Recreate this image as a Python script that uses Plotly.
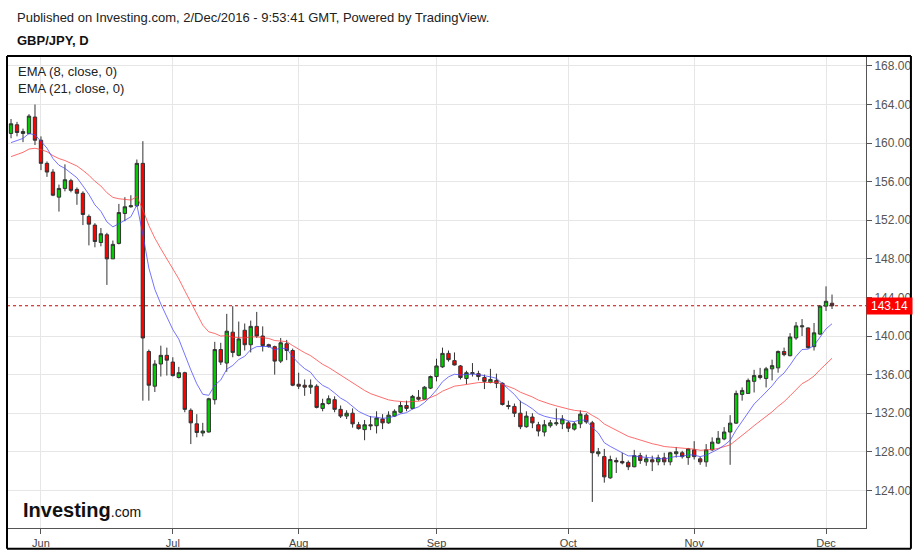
import pandas as pd
import plotly.graph_objects as go

# GBP/JPY daily, 25 May 2016 - 2 Dec 2016 (weekdays only)
dates = pd.bdate_range("2016-05-25", "2016-12-02").strftime("%Y-%m-%d").tolist()

opens = [161.0, 161.9, 161.0, 161.0, 162.7, 160.3, 157.9, 157.0, 154.4, 155.3,
         156.1, 155.2, 154.8, 152.4, 151.5, 149.7, 150.5, 148.0, 149.6, 152.7,
         153.4, 153.5, 157.9, 138.4, 134.8, 137.1, 138.0, 137.3, 135.7, 136.2,
         132.3, 130.9, 129.95, 130.05, 133.4, 138.6, 137.2, 140.4, 138.0, 140.6,
         139.1, 141.0, 140.0, 139.1, 138.9, 137.4, 139.2, 138.5, 135.0, 134.9,
         134.7, 134.8, 132.5, 133.0, 133.4, 132.4, 131.7, 132.0, 130.8, 130.3,
         130.8, 130.7, 131.4, 131.0, 131.7, 132.1, 132.8, 132.5, 133.65, 133.45,
         134.6, 135.8, 136.8, 138.2, 137.45, 136.9, 135.6, 136.1, 136.1, 135.7,
         135.2, 135.4, 135.1, 132.8, 132.7, 132.0, 130.6, 131.6, 130.8, 130.05,
         130.7, 130.9, 130.9, 131.0, 130.35, 130.9, 131.8, 131.0, 127.8, 127.5,
         125.3, 127.1, 127.0, 126.9, 126.45, 127.6, 126.96, 127.17, 126.96, 127.37,
         126.96, 127.8, 127.9, 127.4, 128.2, 127.27, 126.96, 128.2, 128.9, 129.33,
         130.05, 130.97, 133.95, 134.05, 135.3, 135.9, 135.6, 136.6, 136.7, 138.4,
         137.96, 139.8, 140.95, 140.84, 138.9, 140.2, 143.1, 143.4]
highs = [162.5, 162.2, 161.5, 163.0, 164.0, 160.7, 158.1, 157.3, 155.7, 157.8,
         156.3, 155.4, 155.0, 152.6, 151.7, 151.2, 150.7, 149.9, 153.7, 154.4,
         154.6, 158.3, 160.2, 138.6, 137.5, 139.0, 138.8, 137.8, 136.8, 136.3,
         132.5, 131.9, 131.0, 133.6, 139.4, 139.3, 142.3, 143.1, 141.5, 141.3,
         141.6, 142.5, 141.0, 139.2, 139.0, 139.8, 139.6, 138.7, 136.2, 135.5,
         135.5, 135.0, 133.5, 133.85, 133.75, 132.8, 132.3, 132.5, 131.1, 131.3,
         131.7, 132.2, 131.9, 132.2, 132.4, 133.2, 133.3, 133.9, 134.4, 134.8,
         135.9, 137.65, 138.8, 138.5, 138.3, 137.0, 136.4, 137.2, 136.4, 136.0,
         136.6, 136.1, 135.2, 133.3, 133.0, 133.3, 132.2, 132.0, 131.1, 131.3,
         131.3, 132.5, 131.8, 131.2, 131.1, 132.3, 132.0, 131.2, 128.4, 128.3,
         127.6, 127.4, 127.9, 127.1, 128.2, 127.9, 127.7, 127.6, 127.7, 127.9,
         128.0, 128.5, 128.1, 128.4, 129.1, 127.5, 128.8, 129.5, 130.15, 130.56,
         131.8, 134.35, 134.67, 135.6, 136.5, 136.7, 136.8, 137.55, 138.5, 138.8,
         140.3, 141.45, 141.76, 140.9, 141.35, 143.2, 145.15, 144.3]
lows = [160.5, 160.7, 160.1, 160.9, 159.8, 157.2, 156.5, 154.5, 152.9, 155.0,
        154.9, 153.6, 151.5, 149.4, 149.2, 149.3, 145.3, 148.0, 149.5, 151.9,
        153.3, 153.4, 133.3, 133.3, 134.2, 135.8, 135.9, 135.8, 135.6, 132.1,
        128.8, 129.5, 129.6, 130.0, 132.9, 137.0, 136.3, 137.8, 137.9, 138.5,
        138.3, 139.8, 138.4, 138.8, 136.0, 137.2, 137.5, 134.8, 134.5, 133.8,
        134.0, 132.5, 132.2, 132.9, 132.1, 131.5, 131.4, 130.5, 130.3, 129.2,
        130.25, 129.9, 130.35, 130.9, 131.6, 132.0, 132.2, 132.4, 133.3, 133.4,
        134.5, 135.3, 136.7, 137.35, 136.95, 135.5, 135.0, 135.8, 135.4, 134.5,
        135.1, 134.6, 132.8, 132.4, 131.6, 130.35, 130.5, 130.45, 129.6, 129.6,
        130.5, 130.7, 130.35, 130.05, 130.2, 130.45, 130.9, 122.8, 127.5, 124.8,
        125.2, 125.8, 126.7, 126.1, 126.4, 126.75, 126.55, 126.0, 126.6, 126.6,
        126.6, 127.4, 127.3, 126.65, 127.2, 126.65, 126.45, 128.1, 128.8, 129.2,
        126.65, 130.9, 133.3, 134.0, 134.15, 135.5, 134.67, 135.4, 136.2, 137.9,
        137.9, 139.6, 140.0, 138.7, 138.5, 140.1, 142.6, 142.8]
closes = [162.0, 161.1, 161.2, 162.8, 160.3, 157.9, 157.0, 154.6, 155.3, 156.2,
          155.1, 154.8, 152.6, 151.6, 149.8, 150.6, 148.0, 149.5, 152.8, 153.4,
          153.5, 157.9, 139.8, 134.9, 137.1, 138.0, 137.5, 135.9, 136.2, 132.4,
          131.0, 130.0, 130.15, 133.5, 138.6, 137.3, 140.5, 138.3, 139.7, 139.1,
          141.0, 140.0, 139.0, 138.9, 137.4, 139.3, 138.5, 134.9, 134.8, 134.7,
          134.9, 132.6, 133.0, 133.5, 132.4, 131.7, 132.0, 130.9, 130.4, 130.8,
          130.7, 131.5, 131.0, 131.8, 132.2, 132.8, 132.5, 133.75, 133.45, 134.7,
          135.8, 136.9, 138.2, 137.55, 137.0, 135.7, 136.2, 136.2, 135.8, 135.3,
          135.5, 135.1, 132.9, 132.7, 132.0, 130.6, 131.7, 131.0, 130.15, 130.8,
          131.0, 131.0, 131.4, 130.45, 130.9, 131.9, 131.1, 127.9, 128.0, 125.4,
          127.2, 126.95, 126.85, 126.45, 127.6, 127.1, 127.27, 126.96, 127.37, 126.96,
          127.9, 128.0, 127.5, 128.3, 127.5, 126.96, 128.2, 129.0, 129.4, 130.05,
          130.97, 134.05, 134.36, 135.4, 135.9, 135.7, 136.6, 136.93, 138.4, 138.07,
          139.9, 141.05, 141.05, 138.8, 140.33, 143.1, 143.6, 143.14]

# EMA values on the first bar (history before the window)
ema8_start = 160.05
ema21_start = 158.6

month_ticks = ["2016-06-01", "2016-07-01", "2016-08-01", "2016-09-01",
               "2016-10-03", "2016-11-01", "2016-12-01"]
month_labels = ["Jun", "Jul", "Aug", "Sep", "Oct", "Nov", "Dec"]
price_ticks = [124, 128, 132, 136, 140, 144, 148, 152, 156, 160, 164, 168]
last_price = closes[-1]


def ema(values, span, start):
    k = 2 / (span + 1)
    out = [start]
    for v in values[1:]:
        out.append(out[-1] + k * (v - out[-1]))
    return out


ema8 = ema(closes, 8, ema8_start)
ema21 = ema(closes, 21, ema21_start)

W, H = 918, 556
L, R, T, B = 7, 867, 56, 532


def px(x):
    return (x - L) / (R - L)


def py(y):
    return (B - y) / (B - T)


fig = go.Figure()
fig.add_trace(go.Candlestick(
    x=dates, open=opens, high=highs, low=lows, close=closes,
    increasing=dict(fillcolor="#00cc00", line=dict(color="#333333", width=1)),
    decreasing=dict(fillcolor="#ff0000", line=dict(color="#333333", width=1)),
    hoverinfo="skip"))
fig.add_trace(go.Scatter(x=dates, y=ema21, mode="lines",
                         line=dict(color="rgba(255,60,60,0.75)", width=1), hoverinfo="skip"))
fig.add_trace(go.Scatter(x=dates, y=ema8, mode="lines",
                         line=dict(color="rgba(70,70,255,0.75)", width=1), hoverinfo="skip"))

fig.add_shape(type="line", xref="paper", x0=0, x1=1, yref="y", y0=last_price, y1=last_price,
              line=dict(color="#cc0000", width=1, dash="dot"), layer="between")
# outer frame round the whole widget
frame = dict(type="line", xref="paper", yref="paper", line=dict(color="#000000", width=2))
fig.add_shape(x0=0, x1=px(912), y0=1, y1=1, **frame)
fig.add_shape(x0=0, x1=px(912), y0=py(553), y1=py(553), **frame)
fig.add_shape(x0=0, x1=0, y0=py(553), y1=1, **frame)
fig.add_shape(x0=px(912), x1=px(912), y0=py(553), y1=1, **frame)

font = "Liberation Sans, Arial, sans-serif"
ann = [
    dict(x=px(15), y=py(17), text="Published on Investing.com, 2/Dec/2016 - 9:53:41 GMT, Powered by TradingView.",
         font=dict(size=13, color="#222222")),
    dict(x=px(15), y=py(40), text="<b>GBP/JPY, D</b>", font=dict(size=13, color="#111111")),
    dict(x=px(16), y=py(72), text="EMA (8, close, 0)", font=dict(size=13, color="#222222")),
    dict(x=px(16), y=py(89), text="EMA (21, close, 0)", font=dict(size=13, color="#222222")),
    dict(x=px(21), y=py(514), text="<b>Investing</b><span style='font-size:14px'>.com</span>",
         font=dict(size=20, color="#111111")),
]
for a in ann:
    fig.add_annotation(xref="paper", yref="paper", xanchor="left", yanchor="middle",
                       showarrow=False, font_family=font, **a)
fig.add_annotation(xref="paper", x=1, xanchor="left", yref="y", y=last_price, yanchor="middle",
                   text=f"{last_price:.2f}", showarrow=False, bgcolor="#ff0000", width=45, height=16,
                   borderpad=0, font=dict(family=font, size=12, color="#ffffff"))

fig.update_layout(
    width=W, height=H, margin=dict(l=L, r=W - R, t=T, b=H - B),
    paper_bgcolor="white", plot_bgcolor="white", showlegend=False,
    boxgap=0.2, font=dict(family=font),
    xaxis=dict(type="category", range=[-0.67, 142.67], rangeslider=dict(visible=False),
               tickvals=month_ticks, ticktext=month_labels, showgrid=True, gridcolor="#e6e6e6",
               showline=True, linecolor="#555555", ticks="outside", ticklen=5, tickcolor="#555555",
               tickfont=dict(size=11, color="#444444")),
    yaxis=dict(side="right", range=[120.1, 169.03], tickvals=price_ticks, tickformat=".2f",
               showgrid=True, gridcolor="#e6e6e6", zeroline=False,
               showline=True, linecolor="#555555", ticks="outside", ticklen=5, tickcolor="#555555",
               tickfont=dict(size=12, color="#555555")),
)

# the page's default body margin would push the fixed-size chart off the window
fig.write_html("out.html", config={"displayModeBar": False},
               post_script="document.body.style.margin = '0';")
